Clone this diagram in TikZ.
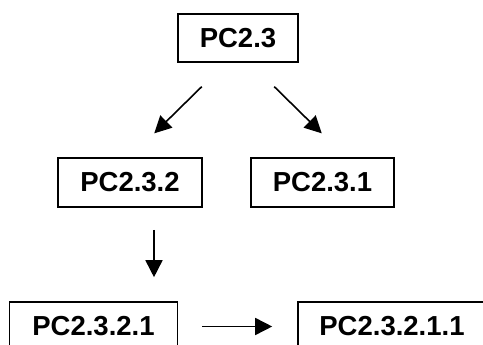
\documentclass[tikz,border=0pt]{standalone}
\usepackage{fontspec}
\setmainfont{Liberation Sans}
\usetikzlibrary{arrows.meta}
\begin{document}
\begin{tikzpicture}[x=1pt,y=-1pt,
  box/.style={draw=black,line width=1.6pt,minimum width=#1,minimum height=49pt,
    inner sep=0pt,font=\fontsize{27.5}{31}\selectfont\bfseries},
  arr/.style={line width=1.6pt,-{Triangle[length=17pt,width=17pt]}}]
  \useasboundingbox (0,0) rectangle (483,345);
  \clip (0,0) rectangle (483,345);
  % boxes
  \node[box=120pt,minimum height=48pt] (top) at (238,38) {PC2.3};
  \node[box=144pt] (left) at (130,182.5) {PC2.3.2};
  \node[box=143pt] (right) at (322.5,182.5) {PC2.3.1};
  \node[box=168pt] (ll) at (93.5,326.5) {PC2.3.2.1};
  \node[box=188pt] (lr) at (392,326.5) {PC2.3.2.1.1};
  % connectors
  \draw[arr,shorten <=34pt,shorten >=34pt] ([xshift=-12pt]top.south) -- (left.north);
  \draw[arr,shorten <=34pt,shorten >=34pt] ([xshift=12pt]top.south) -- ([xshift=23.5pt]right.north);
  \draw[arr,shorten <=22pt,shorten >=24pt] ([xshift=24pt]left.south) -- ([xshift=24pt]left.south |- ll.north);
  \draw[arr,shorten <=24pt,shorten >=25pt] (ll.east) -- (lr.west);
\end{tikzpicture}
\end{document}
